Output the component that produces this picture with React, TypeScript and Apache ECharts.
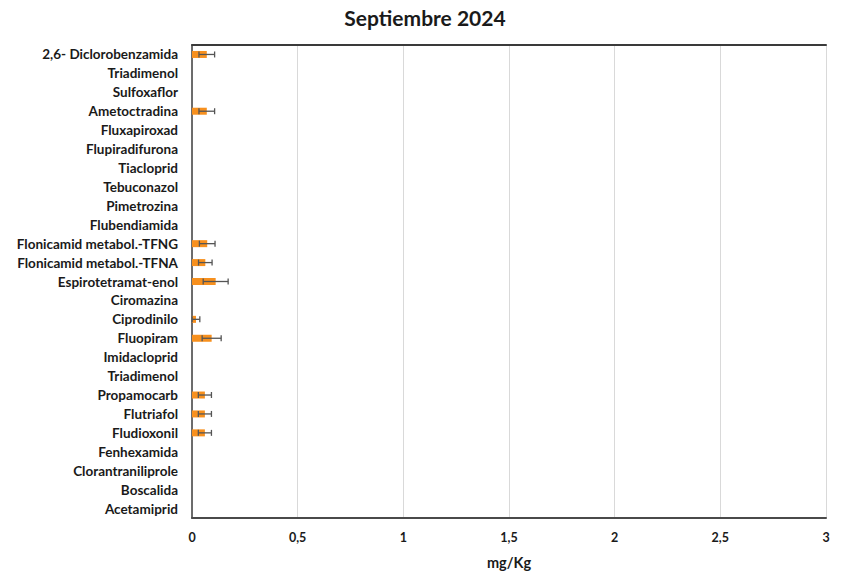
import React, { useEffect, useRef } from "react";
import * as echarts from "echarts";

const categories = [
  "2,6- Diclorobenzamida",
  "Triadimenol",
  "Sulfoxaflor",
  "Ametoctradina",
  "Fluxapiroxad",
  "Flupiradifurona",
  "Tiacloprid",
  "Tebuconazol",
  "Pimetrozina",
  "Flubendiamida",
  "Flonicamid metabol.-TFNG",
  "Flonicamid metabol.-TFNA",
  "Espirotetramat-enol",
  "Ciromazina",
  "Ciprodinilo",
  "Fluopiram",
  "Imidacloprid",
  "Triadimenol",
  "Propamocarb",
  "Flutriafol",
  "Fludioxonil",
  "Fenhexamida",
  "Clorantraniliprole",
  "Boscalida",
  "Acetamiprid",
];

const values = [
  0.07, 0, 0, 0.07, 0, 0, 0, 0, 0, 0, 0.072, 0.063, 0.112, 0, 0.019, 0.093, 0, 0,
  0.061, 0.061, 0.061, 0, 0, 0, 0,
];

const errors = [
  0.037, 0, 0, 0.037, 0, 0, 0, 0, 0, 0, 0.037, 0.032, 0.059, 0, 0.018, 0.045, 0, 0,
  0.031, 0.031, 0.031, 0, 0, 0, 0,
];

const FONT = "Lato, 'Open Sans', sans-serif";

const App: React.FC = () => {
  const chartRef = useRef<HTMLDivElement>(null);

  useEffect(() => {
    document.body.style.margin = "0";
    if (!chartRef.current) return;
    const chart = echarts.init(chartRef.current, undefined, { renderer: "svg" });

    const errData = values
      .map((v, i) => [v, i, errors[i]])
      .filter(d => d[2] > 0);

    const option: echarts.EChartsOption = {
      animation: false,
      backgroundColor: "#ffffff",
      textStyle: { fontFamily: FONT },
      title: {
        text: "Septiembre 2024",
        left: "center",
        top: 2,
        textStyle: { fontFamily: FONT, fontSize: 21, fontWeight: "bold", color: "#1a1a1a" },
      },
      grid: { left: 192, right: 24, top: 45, bottom: 61 },
      xAxis: [
        {
          type: "value",
          min: 0,
          max: 3,
          interval: 0.5,
          name: "mg/Kg",
          nameLocation: "middle",
          nameGap: 37,
          nameTextStyle: { fontFamily: FONT, fontSize: 14.5, fontWeight: "bold", color: "#1a1a1a" },
          axisLine: { show: true, lineStyle: { color: "#4a4a4a", width: 2 } },
          axisTick: { show: false },
          axisLabel: {
            margin: 13,
            fontFamily: FONT,
            fontSize: 12.5,
            fontWeight: "bold",
            color: "#1a1a1a",
            formatter: (v: number) => String(v).replace(".", ","),
          },
          splitLine: { show: true, lineStyle: { color: "#d9d9d9", width: 1 } },
        },
        {
          type: "value",
          position: "top",
          min: 0,
          max: 3,
          axisLine: { show: true, lineStyle: { color: "#3a3a3a", width: 2 } },
          axisTick: { show: false },
          axisLabel: { show: false },
          splitLine: { show: false },
        },
      ],
      yAxis: [
        {
          type: "category",
          data: categories,
          inverse: true,
          axisLine: { show: true, lineStyle: { color: "#c8c8c8", width: 1.5 } },
          axisTick: { show: false },
          axisLabel: {
            margin: 14,
            fontFamily: FONT,
            fontSize: 13.5,
            fontWeight: "bold",
            color: "#1a1a1a",
            interval: 0,
          },
        },
        {
          type: "category",
          position: "right",
          data: categories,
          inverse: true,
          axisLine: { show: true, lineStyle: { color: "#4a4a4a", width: 1.5 } },
          axisTick: { show: false },
          axisLabel: { show: false },
        },
      ],
      series: [
        {
          type: "bar",
          data: values,
          barWidth: 7,
          itemStyle: { color: "#f7901e" },
        },
        {
          type: "custom",
          data: errData,
          encode: { x: 0, y: 1 },
          z: 5,
          renderItem: (params: any, api: any) => {
            const v = api.value(0);
            const idx = api.value(1);
            const e = api.value(2);
            const lo = api.coord([v - e, idx]);
            const hi = api.coord([v + e, idx]);
            const h = 3;
            const style = { stroke: "#555555", lineWidth: 1.3 };
            return {
              type: "group",
              children: [
                { type: "line", shape: { x1: lo[0], y1: lo[1], x2: hi[0], y2: hi[1] }, style },
                { type: "line", shape: { x1: lo[0], y1: lo[1] - h, x2: lo[0], y2: lo[1] + h }, style },
                { type: "line", shape: { x1: hi[0], y1: hi[1] - h, x2: hi[0], y2: hi[1] + h }, style },
              ],
            };
          },
        },
      ],
    };

    chart.setOption(option);
    return () => {
      chart.dispose();
    };
  }, []);

  return <div ref={chartRef} style={{ width: 850, height: 579 }} />;
};

export default App;
